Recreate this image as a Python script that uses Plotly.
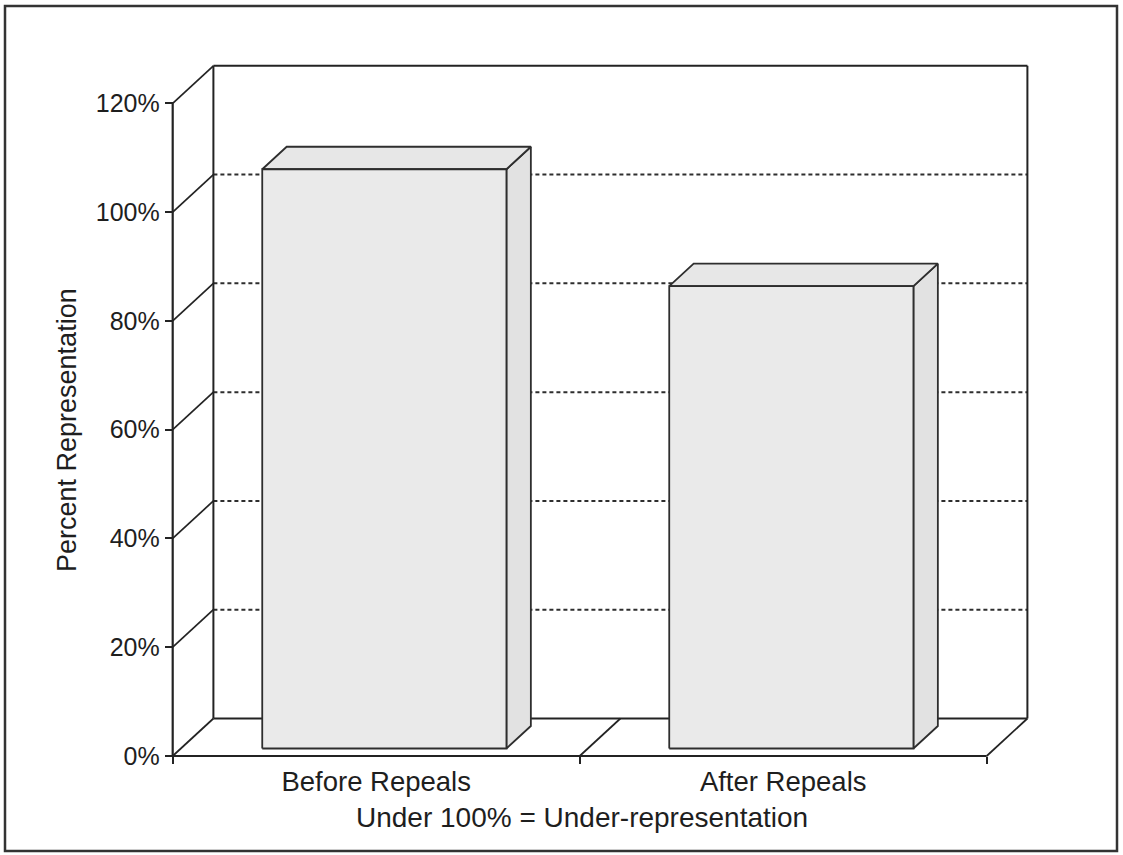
import plotly.graph_objects as go

# ---------------- data ----------------
categories = ["Before Repeals", "After Repeals"]
values = [106.5, 85.0]                      # percent representation
y_ticks = [0, 20, 40, 60, 80, 100, 120]
y_tick_labels = ["0%", "20%", "40%", "60%", "80%", "100%", "120%"]
y_title = "Percent Representation"
x_note = "Under 100% = Under-representation"

# ---------------- geometry / style ----------------
W, H = 1123, 855
# pixel box of the front plane
PX_L, PX_R, PY_B, PY_T = 172.7, 986.7, 756.0, 103.3
X0, X1 = -0.5, len(categories) - 0.5
Y_MAX = y_ticks[-1]
sx = (PX_R - PX_L) / (X1 - X0)          # px per x unit
sy = (PY_B - PY_T) / Y_MAX              # px per percent
x_range = [X0 - PX_L / sx, X0 + (W - PX_L) / sx]
y_range = [-(H - PY_B) / sy, PY_B / sy]

DX = 40.7 / sx       # depth offset, x units
DY = 37.5 / sy       # depth offset, percent units
BAR_W = 0.6
F0, F1 = 0.2, 0.8    # bar front / back depth fractions

LINE = "#232323"
FONT = "Liberation Sans, Arial, sans-serif"
TXT = "#1e1e1e"

fig = go.Figure()


def seg(xs, ys, width=2.0, dash=None, color=LINE, xaxis="x"):
    fig.add_trace(go.Scatter(x=xs, y=ys, mode="lines", xaxis=xaxis,
                             line=dict(color=color, width=width, dash=dash),
                             hoverinfo="skip", showlegend=False))


def face(xs, ys, fill):
    fig.add_trace(go.Scatter(x=xs + [xs[0]], y=ys + [ys[0]], mode="lines",
                             fill="toself", fillcolor=fill,
                             line=dict(color="#2e2e2e", width=1.8),
                             hoverinfo="skip", showlegend=False))


# back wall dashed gridlines
for t in y_ticks[1:-1]:
    seg([X0 + DX, X1 + DX], [t + DY, t + DY], width=2.0, dash="4px,3px", color="#2e2e2e")

# back wall frame
seg([X0 + DX, X0 + DX], [DY, Y_MAX + DY])
seg([X0 + DX, X1 + DX], [Y_MAX + DY, Y_MAX + DY])
seg([X1 + DX, X1 + DX], [DY, Y_MAX + DY])
seg([X0 + DX, X1 + DX], [DY, DY])

# side wall diagonals at every tick
for t in y_ticks:
    seg([X0, X0 + DX], [t, t + DY], width=1.7)

# floor diagonals at category boundaries
for i in range(1, len(categories) + 1):
    b = X0 + i
    seg([b, b + DX], [0, DY], width=1.7)

# front floor line and front value axis line
seg([X0, X1], [0, 0], width=2.2, xaxis="x2")
seg([X0, X0], [0, Y_MAX], width=2.2)

# 3-D bars
a, b = F0 * DX, F0 * DY
c, d = F1 * DX, F1 * DY
for i, v in enumerate(values):
    xl, xr = i - BAR_W / 2, i + BAR_W / 2
    face([xr + a, xr + c, xr + c, xr + a], [b, d, v + d, v + b], "#e2e2e2")
    face([xl + a, xr + a, xr + c, xl + c], [v + b, v + b, v + d, v + d], "#e7e7e7")
    face([xl + a, xr + a, xr + a, xl + a], [b, b, v + b, v + b], "#eaeaea")

fig.update_layout(
    width=W, height=H,
    margin=dict(l=0, r=0, t=0, b=0),
    paper_bgcolor="white", plot_bgcolor="white",
    font=dict(family=FONT, size=27, color=TXT),
    xaxis=dict(range=x_range, tickvals=list(range(len(categories))), ticktext=categories,
               ticks="", showgrid=False, zeroline=False, showline=False,
               anchor="free", position=(H - PY_B) / H, side="bottom",
               ticklabelstandoff=6,
               tickfont=dict(size=27.5, color=TXT), fixedrange=True),
    xaxis2=dict(range=x_range, overlaying="x", tickvals=[X0 + i for i in range(len(categories) + 1)],
                ticks="outside", ticklen=7, tickwidth=2, tickcolor=LINE,
                showticklabels=False, showgrid=False, zeroline=False, showline=False,
                anchor="free", position=(H - PY_B) / H, side="bottom", fixedrange=True),
    yaxis=dict(range=y_range, tickvals=y_ticks, ticktext=y_tick_labels,
               ticks="outside", ticklen=8, tickwidth=2, tickcolor=LINE,
               showgrid=False, zeroline=False, showline=False,
               anchor="free", position=PX_L / W, side="left",
               tickfont=dict(size=25, color=TXT), fixedrange=True),
    annotations=[
        dict(text=y_title, xref="paper", yref="paper", x=67 / W, y=(H - 430) / H,
             textangle=-90, showarrow=False, xanchor="center", yanchor="middle",
             font=dict(size=27, color=TXT)),
        dict(text=x_note, xref="paper", yref="paper", x=582 / W, y=(H - 817) / H,
             showarrow=False, xanchor="center", yanchor="middle",
             font=dict(size=28, color=TXT)),
    ],
    shapes=[dict(type="rect", xref="paper", yref="paper",
                 x0=5 / W, x1=1117 / W, y0=(H - 851) / H, y1=(H - 6) / H,
                 line=dict(color="#333333", width=2.5), fillcolor="rgba(0,0,0,0)")],
)

fig.write_html("out.html", config={"displayModeBar": False},
               post_script="document.body.style.margin='0';document.body.style.overflow='hidden';")
